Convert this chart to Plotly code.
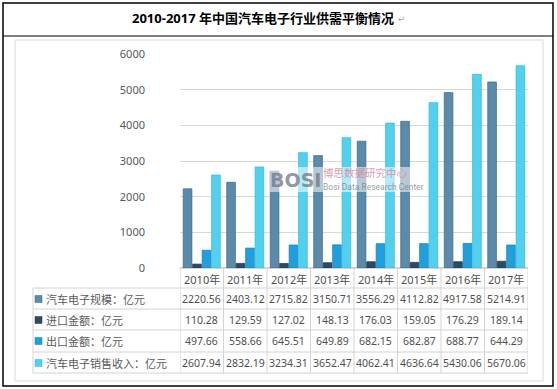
import plotly.graph_objects as go

years = ["2010年", "2011年", "2012年", "2013年", "2014年", "2015年", "2016年", "2017年"]
series_names = ["汽车电子规模：亿元", "进口金额：亿元", "出口金额：亿元", "汽车电子销售收入：亿元"]
scale = [2220.56, 2403.12, 2715.82, 3150.71, 3556.29, 4112.82, 4917.58, 5214.91]
imports = [110.28, 129.59, 127.02, 148.13, 176.03, 159.05, 176.29, 189.14]
exports = [497.66, 558.66, 645.51, 649.89, 682.15, 682.87, 688.77, 644.29]
revenue = [2607.94, 2832.19, 3234.31, 3652.47, 4062.41, 4636.64, 5430.06, 5670.06]
y_ticks = [0, 1000, 2000, 3000, 4000, 5000, 6000]

series = [scale, imports, exports, revenue]
colors = ["#5b8bab", "#2c4b61", "#1fa0dc", "#52d1ef"]
edge = ["#3f6683", "#1f3a4d", "#137fb5", "#35b5d8"]

W, H = 557, 389
def px(x):
    return x / W
def py(y):
    return 1 - y / H

fig = go.Figure()
for name, vals, c, e in zip(series_names, series, colors, edge):
    fig.add_trace(go.Bar(x=years, y=vals, name=name, marker=dict(color=c, line=dict(color=e, width=0.7)),
                         hoverinfo="x+y+name"))

font_main = "Noto Sans, Noto Sans CJK SC, sans-serif"
txt_col = "#505050"
line_col = "#d4d4d4"

shapes = []
ann = []

shapes.append(dict(type="rect", xref="paper", yref="paper", x0=px(3), x1=px(553), y0=py(386), y1=py(3),
                   line=dict(color="black", width=1.5)))
shapes.append(dict(type="line", xref="paper", yref="paper", x0=px(3), x1=px(553), y0=py(36), y1=py(36),
                   line=dict(color="black", width=1.2)))
shapes.append(dict(type="rect", xref="paper", yref="paper", x0=px(15), x1=px(543), y0=py(381), y1=py(40),
                   line=dict(color="#d9d9d9", width=1)))

ann.append(dict(xref="paper", yref="paper", x=px(263), y=py(18), showarrow=False, yanchor="middle",
                text="<b>2010-2017 年中国汽车电子行业供需平衡情况</b>",
                font=dict(size=13, color="black", family=font_main)))
ann.append(dict(xref="paper", yref="paper", x=px(396), y=py(19), showarrow=False, yanchor="middle",
                xanchor="left", text="↵", font=dict(size=9, color="#aaaaaa", family="DejaVu Sans")))

top_tab = 269
row_bounds = [288, 309, 330, 352, 373]
n = len(years)
for k in range(n + 1):
    shapes.append(dict(type="line", xref="x", yref="paper", x0=k - 0.5, x1=k - 0.5,
                       y0=py(373), y1=py(top_tab), line=dict(color=line_col, width=1)))
shapes.append(dict(type="line", xref="paper", yref="paper", x0=px(33), x1=px(33),
                   y0=py(373), y1=py(288), line=dict(color=line_col, width=1)))
for yb in row_bounds:
    shapes.append(dict(type="line", xref="paper", yref="paper", x0=px(33), x1=px(528),
                       y0=py(yb), y1=py(yb), line=dict(color=line_col, width=1)))

for i, yr in enumerate(years):
    ann.append(dict(xref="x", yref="paper", x=i, y=py(279), text=yr, showarrow=False, yanchor="middle",
                    font=dict(size=11, color=txt_col, family=font_main)))
row_centers = [299, 320, 341, 363]
for r, (name, vals, c) in enumerate(zip(series_names, series, colors)):
    yc = row_centers[r]
    shapes.append(dict(type="rect", xref="paper", yref="paper", x0=px(35), x1=px(42),
                       y0=py(yc + 3.5), y1=py(yc - 3.5), fillcolor=c, line=dict(color=edge[r], width=0.5)))
    ann.append(dict(xref="paper", yref="paper", x=px(44), y=py(yc), text=name, showarrow=False,
                    xanchor="left", yanchor="middle", font=dict(size=11, color="#5a5a5a", family=font_main)))
    for i, v in enumerate(vals):
        ann.append(dict(xref="x", yref="paper", x=i, y=py(yc), text=f"{v:.2f}", showarrow=False,
                        yanchor="middle", font=dict(size=10.5, color=txt_col, family=font_main)))

# watermark
shapes.append(dict(type="rect", xref="paper", yref="paper", x0=px(270), x1=px(411), y0=py(192), y1=py(167),
                   fillcolor="rgba(255,255,255,0.55)", line=dict(width=0), layer="above"))
ann.append(dict(xref="paper", yref="paper", x=px(295), y=py(180), showarrow=False, yanchor="middle",
                text="<b>BOSI</b>", font=dict(size=19, color="rgba(110,120,130,0.75)", family="DejaVu Sans")))
ann.append(dict(xref="paper", yref="paper", x=px(321), y=py(173), showarrow=False, xanchor="left",
                yanchor="middle", text="博思数据研究中心",
                font=dict(size=10.5, color="rgba(215,120,140,0.75)", family=font_main)))
ann.append(dict(xref="paper", yref="paper", x=px(321), y=py(187), showarrow=False, xanchor="left",
                yanchor="middle", text="Bosi Data Research Center",
                font=dict(size=8.5, color="rgba(110,110,120,0.7)", family="Liberation Sans Narrow, Roboto")))

fig.update_layout(
    width=W, height=H,
    autosize=False,
    margin=dict(l=0, r=0, t=0, b=0, pad=0, autoexpand=False),
    paper_bgcolor="white", plot_bgcolor="white",
    barmode="group", bargap=0.13, bargroupgap=0.08,
    showlegend=False,
    xaxis=dict(domain=[px(180), px(528)], showticklabels=False, showline=False, showgrid=False,
               zeroline=False, range=[-0.5, n - 0.5], automargin=False),
    yaxis=dict(domain=[py(268), py(54)], range=[0, 6000], tickvals=y_ticks, showgrid=True,
               gridcolor="#d9d9d9", gridwidth=1, zeroline=True, zerolinecolor="#d4d4d4",
               ticklabelstandoff=34, tickfont=dict(size=11, color="#595959", family=font_main),
               showline=False, automargin=False),
    shapes=shapes, annotations=ann,
)

fig.write_html("out.html", config={"displayModeBar": False},
               post_script="document.body.style.margin='0';document.body.style.overflow='hidden';")
